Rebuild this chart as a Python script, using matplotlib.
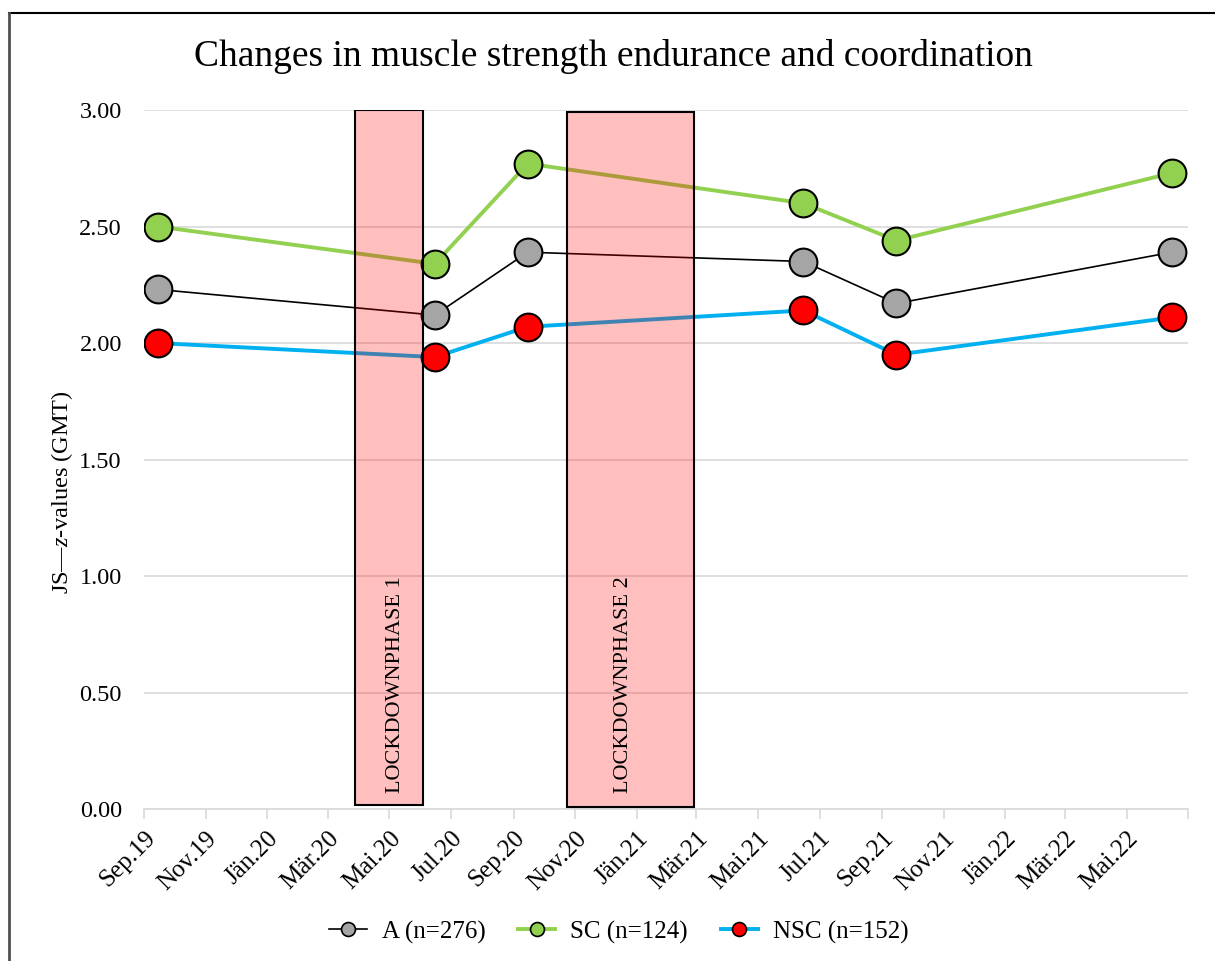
import matplotlib.pyplot as plt
import matplotlib.dates as mdates
import matplotlib.transforms as mtransforms
from matplotlib.patches import Rectangle
from matplotlib.lines import Line2D
import datetime as dt

plt.rcParams['font.family'] = ['Liberation Serif', 'DejaVu Serif']
plt.rcParams['mathtext.fontset'] = 'custom'
plt.rcParams['mathtext.rm'] = 'Liberation Serif'
plt.rcParams['mathtext.it'] = 'Liberation Serif:italic'

# Messzeitpunkte
dates = [dt.date(2019, 9, 15), dt.date(2020, 6, 15), dt.date(2020, 9, 15),
         dt.date(2021, 6, 15), dt.date(2021, 9, 15), dt.date(2022, 6, 15)]
a_vals = [2.23, 2.12, 2.39, 2.35, 2.17, 2.39]
sc_vals = [2.50, 2.34, 2.77, 2.60, 2.44, 2.73]
nsc_vals = [2.00, 1.94, 2.07, 2.14, 1.95, 2.11]

# Lockdown-Phasen (Start, Ende, oben, unten, Text)
lockdowns = [
    (dt.date(2020, 3, 28), dt.date(2020, 6, 3), 3.00, 0.02, "LOCKDOWNPHASE 1"),
    (dt.date(2020, 10, 24), dt.date(2021, 2, 27), 2.99, 0.01, "LOCKDOWNPHASE 2"),
]
label_shift_days = [7, -7]

tick_dates = []
tick_labels = []
mon_names = {1: "Jän", 3: "Mär", 5: "Mai", 7: "Jul", 9: "Sep", 11: "Nov"}
y, m = 2019, 9
while (y, m) <= (2022, 5):
    tick_dates.append(dt.date(y, m, 1))
    tick_labels.append("%s.%02d" % (mon_names[m], y % 100))
    m += 2
    if m > 12:
        m -= 12
        y += 1

fig = plt.figure(figsize=(12.15, 9.61), dpi=100)
ax = fig.add_axes([0.1185, 0.158, 0.978 - 0.1185, 0.8855 - 0.158])

ax.plot(dates, a_vals, color='black', lw=1.2, marker='o', ms=20,
        mfc='#A5A5A5', mec='black', mew=1.5, zorder=3, label='A (n=276)')
ax.plot(dates, sc_vals, color='#92D050', lw=2.8, marker='o', ms=20,
        mfc='#92D050', mec='black', mew=1.5, zorder=3, label='SC (n=124)')
ax.plot(dates, nsc_vals, color='#00B0F0', lw=2.8, marker='o', ms=20,
        mfc='#FF0000', mec='black', mew=1.5, zorder=3, label='NSC (n=152)')

for (start, end, top, bottom, label), sh in zip(lockdowns, label_shift_days):
    x0 = mdates.date2num(start)
    x1 = mdates.date2num(end)
    ax.add_patch(Rectangle((x0, bottom), x1 - x0, top - bottom,
                           facecolor=(1, 0, 0, 0.25), edgecolor='black',
                           lw=1.5, zorder=4))
    ax.text((x0 + x1) / 2 + sh, 0.07, label, rotation=90, ha='center',
            va='bottom', fontsize=16, zorder=5)

ax.set_xlim(mdates.date2num(dt.date(2019, 9, 1)), mdates.date2num(dt.date(2022, 7, 1)))
ax.set_ylim(0, 3.0)
ax.set_yticks([0, 0.5, 1.0, 1.5, 2.0, 2.5, 3.0])
ax.set_yticklabels(["%.2f" % v for v in ax.get_yticks()], fontsize=17.5)
ax.set_xticks([mdates.date2num(d) for d in tick_dates] + [mdates.date2num(dt.date(2022, 7, 1))])
ax.set_xticklabels(tick_labels + [""], rotation=45, ha='right',
                   rotation_mode='anchor', fontsize=18)
offset = mtransforms.ScaledTranslation(9 / 100, 0, fig.dpi_scale_trans)
for lbl in ax.get_xticklabels():
    lbl.set_transform(lbl.get_transform() + offset)

ax.grid(axis='y', color='#D9D9D9', lw=1.2)
ax.set_axisbelow(True)
for s in ['top', 'right', 'left']:
    ax.spines[s].set_visible(False)
ax.spines['bottom'].set_color('#D9D9D9')
ax.spines['bottom'].set_linewidth(1.2)
ax.tick_params(axis='y', length=0, pad=16)
ax.tick_params(axis='x', length=7, color='#D9D9D9', width=1.2, pad=6)

fig.text(62 / 1215, 1 - 492 / 961, r"JS—$\mathit{z}$-values (GMT)", rotation=90,
         ha='center', va='center', fontsize=17.5)
fig.text(0.505, 1 - 57 / 961, "Changes in muscle strength endurance and coordination",
         ha='center', va='center', fontsize=27)

handles = [
    Line2D([], [], color='black', lw=1.2, marker='o', ms=10, mfc='#A5A5A5', mec='black', mew=1.2),
    Line2D([], [], color='#92D050', lw=2.8, marker='o', ms=10, mfc='#92D050', mec='black', mew=1.2),
    Line2D([], [], color='#00B0F0', lw=2.8, marker='o', ms=10, mfc='#FF0000', mec='black', mew=1.2),
]
fig.legend(handles, ['A (n=276)', 'SC (n=124)', 'NSC (n=152)'], loc='center',
           bbox_to_anchor=(619 / 1215, 1 - 932 / 961), ncol=3, frameon=False, fontsize=18,
           handlelength=1.5, handletextpad=0.6, columnspacing=1.3)

# Rahmen oben und links
fig.add_artist(Line2D([9 / 1215, 1], [1 - 13 / 961, 1 - 13 / 961], transform=fig.transFigure,
                      color='black', lw=1.5))
fig.add_artist(Line2D([9 / 1215, 9 / 1215], [0, 1 - 13 / 961], transform=fig.transFigure,
                      color='#505050', lw=2))

fig.savefig('out.png', dpi=100)
